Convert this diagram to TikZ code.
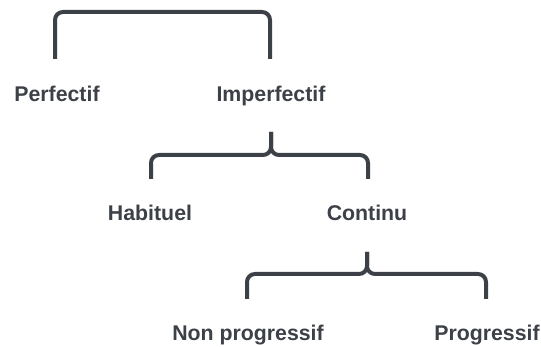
\documentclass[tikz,border=0pt]{standalone}
\usepackage{fontspec}
\setmainfont{Liberation Sans}
\definecolor{ink}{HTML}{3C4047}

\begin{document}
\begin{tikzpicture}[x=1pt,y=-1pt,
    term/.style={font=\fontsize{21.3}{25}\selectfont\bfseries,text=ink,anchor=base,inner sep=0pt},
    bracket/.style={draw=ink,line width=4pt,rounded corners=8pt}]
            \useasboundingbox (0,0) rectangle (541,347);
            % labels
            \node[term] (perfectif) at (57,102) {Perfectif};
            \node[term] (imperfectif) at (271,102) {Imperfectif};
            \node[term] (habituel) at (150,221) {Habituel};
            \node[term] (continu) at (367,221) {Continu};
            \node[term] (nonprog) at (248,341) {Non progressif};
            \node[term] (prog) at (487,341) {Progressif};
            % bracket ends
            \coordinate (perfectif-up) at (55,59);
            \coordinate (imperfectif-up) at (270,59);
            \coordinate (imperfectif-down) at (271,132);
            \coordinate (habituel-up) at (151,179);
            \coordinate (continu-up) at (368,179);
            \coordinate (continu-down) at (367,252);
            \coordinate (nonprog-up) at (247,299);
            \coordinate (prog-up) at (486,299);
            % brackets
            \draw[bracket] (perfectif-up) |- (imperfectif-up |- 0,12) -- (imperfectif-up);
            \draw[bracket] (habituel-up) |- (imperfectif-down |- 0,155) -- (imperfectif-down);
            \draw[bracket] (continu-up) |- (imperfectif-down |- 0,155) -- (imperfectif-down);
            \draw[bracket] (nonprog-up) |- (continu-down |- 0,274) -- (continu-down);
            \draw[bracket] (prog-up) |- (continu-down |- 0,274) -- (continu-down);
\end{tikzpicture}
\end{document}
